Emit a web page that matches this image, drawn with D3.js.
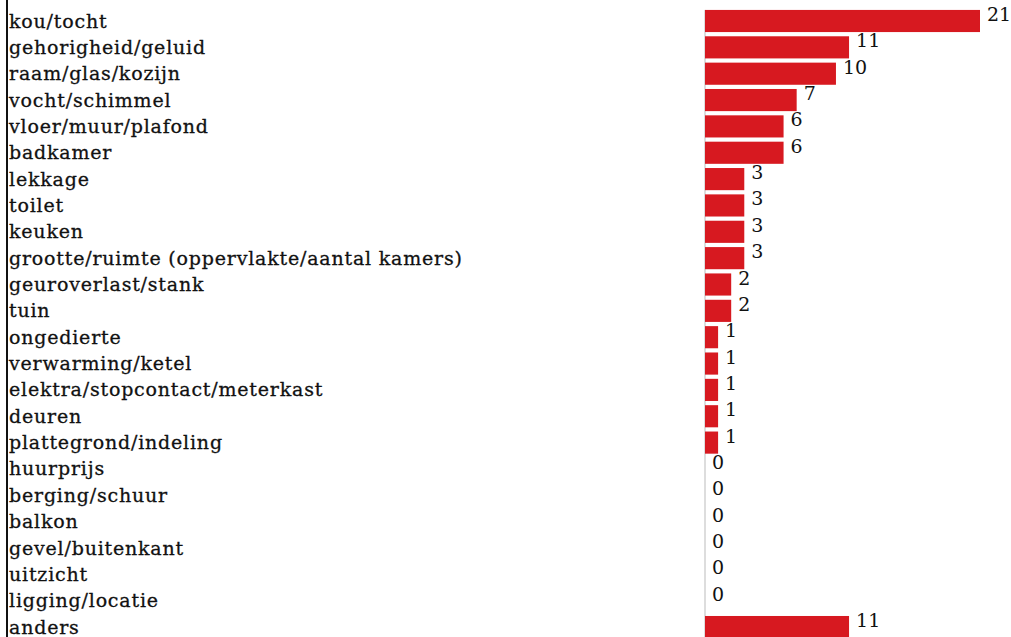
<!DOCTYPE html>
<html>
<head>
<meta charset="utf-8">
<script src="https://cdn.jsdelivr.net/npm/d3@7"></script>
<style>
  html, body { margin: 0; padding: 0; background: #fff; overflow: hidden; }
</style>
</head>
<body>
<div id="chart"></div>
<script>
const categories = [
  'kou/tocht', 'gehorigheid/geluid', 'raam/glas/kozijn', 'vocht/schimmel',
  'vloer/muur/plafond', 'badkamer', 'lekkage', 'toilet', 'keuken',
  'grootte/ruimte (oppervlakte/aantal kamers)', 'geuroverlast/stank', 'tuin',
  'ongedierte', 'verwarming/ketel', 'elektra/stopcontact/meterkast', 'deuren',
  'plattegrond/indeling', 'huurprijs', 'berging/schuur', 'balkon',
  'gevel/buitenkant', 'uitzicht', 'ligging/locatie', 'anders'
];
const counts = [21, 11, 10, 7, 6, 6, 3, 3, 3, 3, 2, 2, 1, 1, 1, 1, 1, 0, 0, 0, 0, 0, 0, 11];

const width = 1011;
const height = 637;
const font = '"DejaVu Serif", serif';

const svg = d3.select('#chart').append('svg')
  .attr('width', width)
  .attr('height', height);

// bands: first row center ~21, step ~26.35
const step = 26.35;
const y = d3.scaleBand()
  .domain(categories)
  .range([21 - step / 2, 21 - step / 2 + step * categories.length])
  .paddingInner(0.16)
  .paddingOuter(0.08);

const x = d3.scaleLinear()
  .domain([0, 21])
  .range([705, 980]);

// left border line
svg.append('line')
  .attr('x1', 7).attr('x2', 7)
  .attr('y1', 0).attr('y2', height)
  .attr('stroke', '#111')
  .attr('stroke-width', 2);

// zero axis
svg.append('line')
  .attr('x1', x(0)).attr('x2', x(0))
  .attr('y1', y(categories[0])).attr('y2', y(categories[categories.length - 1]) + y.bandwidth())
  .attr('stroke', '#bbb')
  .attr('stroke-width', 1);

// category labels
svg.selectAll('text.cat')
  .data(categories)
  .enter()
  .append('text')
  .attr('class', 'cat')
  .attr('x', 9)
  .attr('y', d => y(d) + y.bandwidth() / 2 + 6.5)
  .style('font-family', font)
  .style('font-size', '19px')
  .style('letter-spacing', '0.8px')
  .style('fill', '#111')
  .style('stroke', '#111')
  .style('stroke-width', 0.3)
  .text(d => d);

// bars
svg.selectAll('rect.bar')
  .data(categories)
  .enter()
  .append('rect')
  .attr('class', 'bar')
  .attr('x', x(0))
  .attr('y', d => y(d))
  .attr('width', (d, i) => x(counts[i]) - x(0))
  .attr('height', y.bandwidth())
  .style('fill', '#d71920');

// value labels
svg.selectAll('text.val')
  .data(categories)
  .enter()
  .append('text')
  .attr('class', 'val')
  .attr('x', (d, i) => x(counts[i]) + 7)
  .attr('y', d => y(d) + y.bandwidth() / 2)
  .style('font-family', font)
  .style('font-size', '19px')
  .style('fill', '#111')
  .text((d, i) => counts[i]);
</script>
</body>
</html>
